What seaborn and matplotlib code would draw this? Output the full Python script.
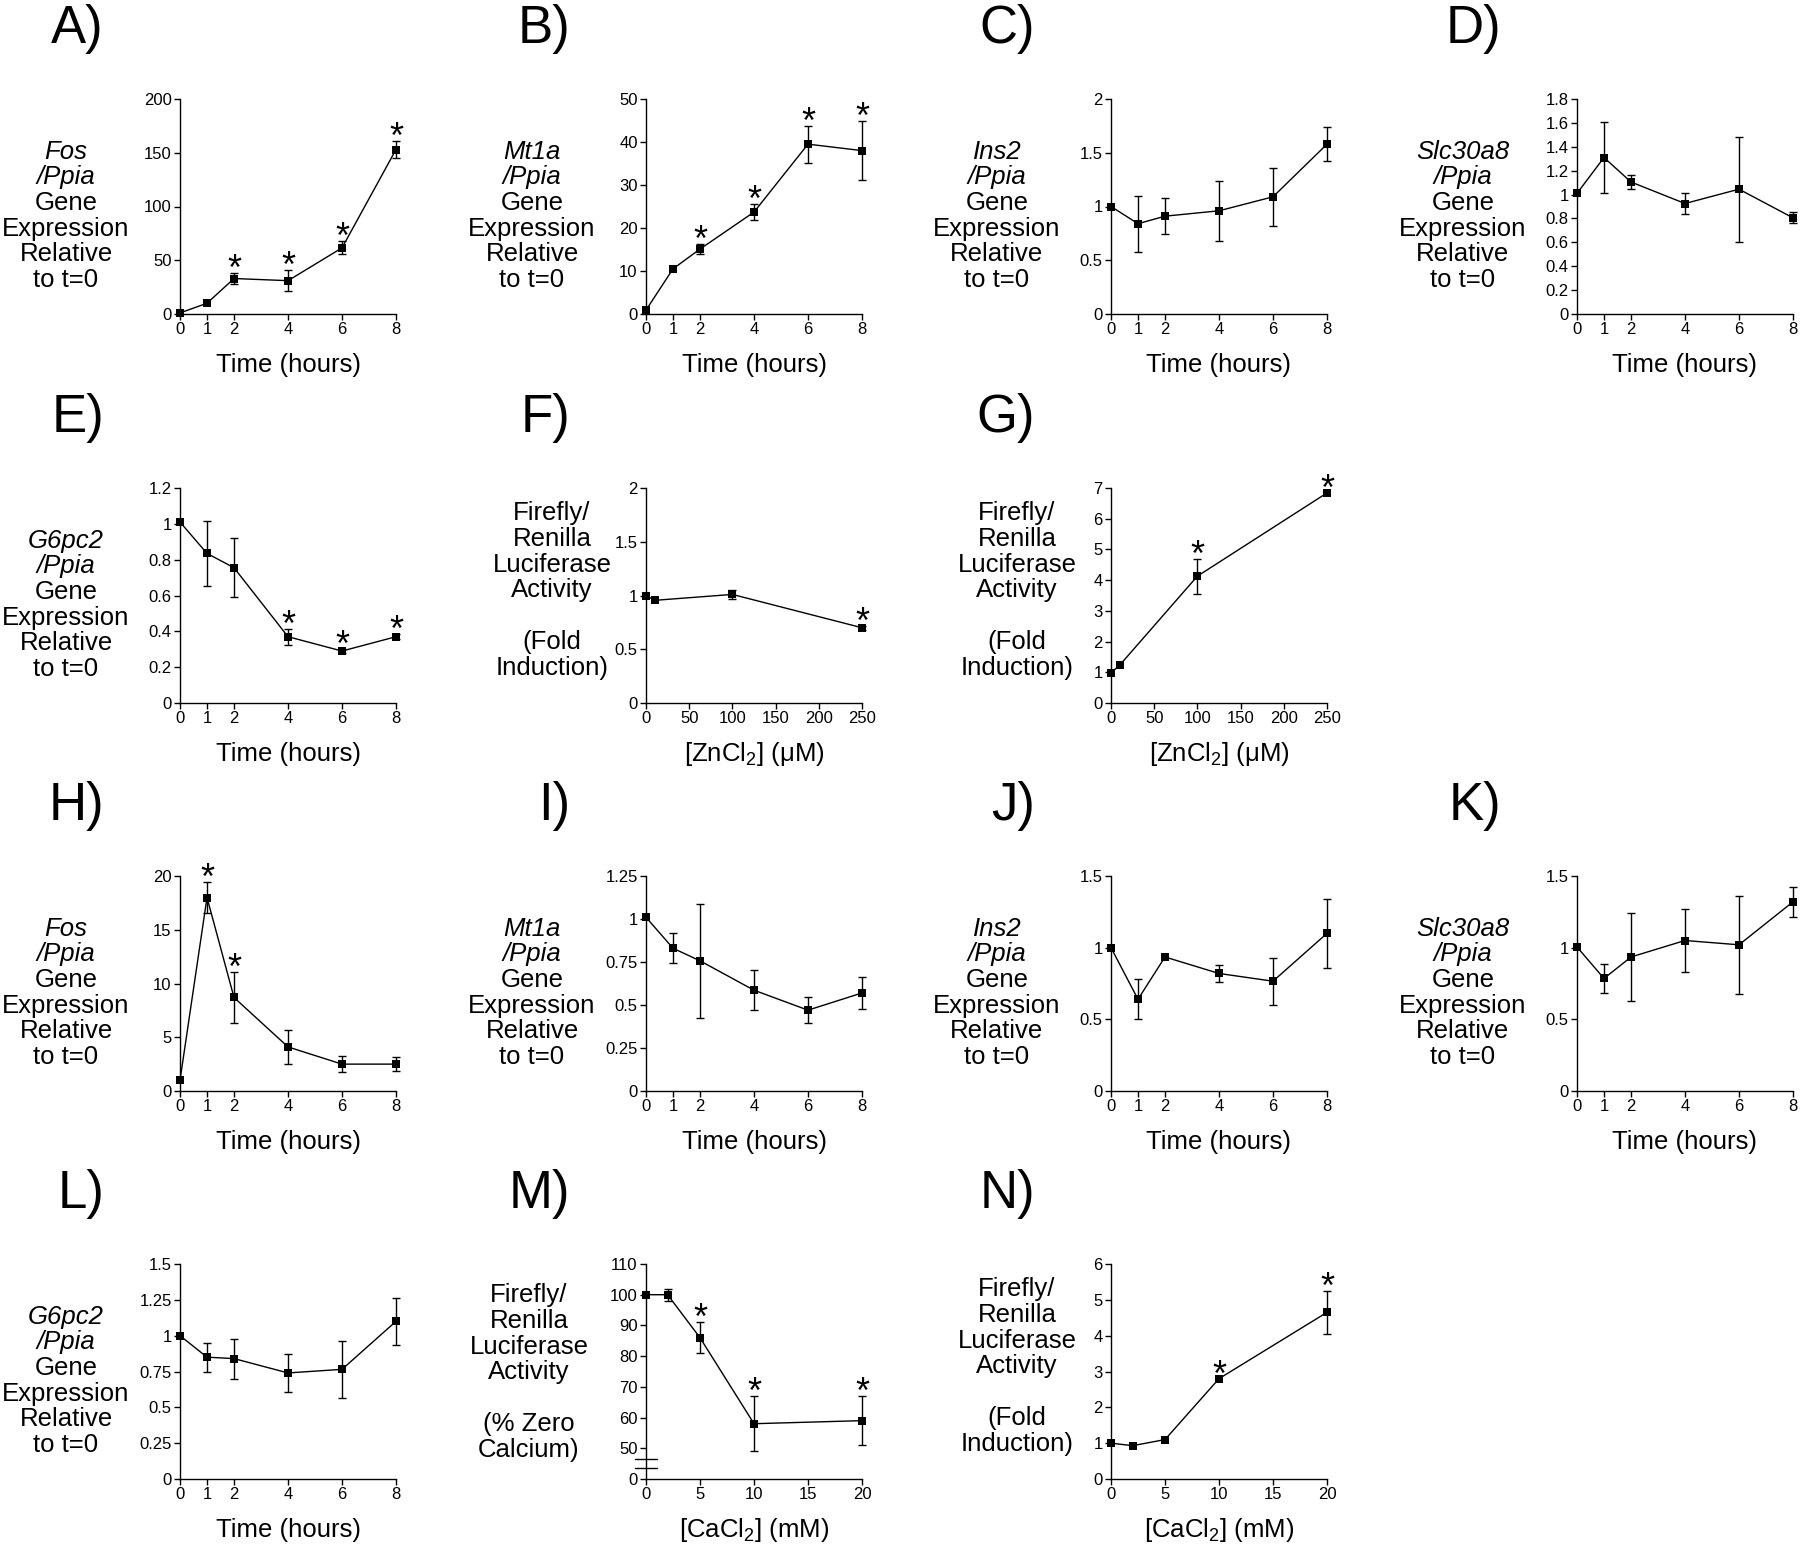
import numpy as np
import matplotlib
matplotlib.use("Agg")
import matplotlib.pyplot as plt
import seaborn as sns
from matplotlib.ticker import FuncFormatter
from matplotlib.transforms import blended_transform_factory

nan = np.nan

# x values
hours = [0, 1, 2, 4, 6, 8]
zinc_um = [0, 10, 100, 250]
calcium_mm = [0, 2, 5, 10, 20]

# zinc time course (A-E)
fos_zn = [1, 10, 33, 31, 61.5, 153]
fos_zn_err = [nan, nan, 5.5, 10, 6, 8]
fos_zn_sig = [2, 4, 6, 8]
mt1a_zn = [0.9, 10.5, 15.1, 23.7, 39.5, 38.0]
mt1a_zn_err = [nan, nan, 1.2, 1.8, 4.3, 6.8]
mt1a_zn_sig = [2, 4, 6, 8]
ins2_zn = [1.0, 0.84, 0.91, 0.96, 1.09, 1.58]
ins2_zn_err = [nan, 0.26, 0.17, 0.28, 0.27, 0.16]
slc_zn = [1.01, 1.31, 1.105, 0.925, 1.045, 0.805]
slc_zn_err = [nan, 0.30, 0.06, 0.09, 0.44, 0.045]
g6pc2_zn = [1.01, 0.835, 0.755, 0.37, 0.29, 0.37]
g6pc2_zn_err = [nan, 0.18, 0.165, 0.045, 0.012, 0.015]
g6pc2_zn_sig = [4, 6, 8]

# luciferase, zinc (F, G)
luc_f = [1.0, 0.955, 1.01, 0.70]
luc_f_err = [nan, nan, 0.04, 0.02]
luc_f_sig = [250]
luc_g = [0.98, 1.23, 4.13, 6.84]
luc_g_err = [nan, nan, 0.57, nan]
luc_g_sig = [100, 250]

# calcium time course (H-L)
fos_ca = [1.0, 18.0, 8.7, 4.1, 2.5, 2.5]
fos_ca_err = [nan, 1.4, 2.4, 1.6, 0.75, 0.65]
fos_ca_sig = [1, 2]
mt1a_ca = [1.01, 0.83, 0.757, 0.586, 0.47, 0.57]
mt1a_ca_err = [nan, 0.087, 0.33, 0.116, 0.075, 0.095]
ins2_ca = [1.0, 0.64, 0.935, 0.82, 0.766, 1.10]
ins2_ca_err = [nan, 0.14, nan, 0.058, 0.165, 0.24]
slc_ca = [1.005, 0.785, 0.935, 1.05, 1.02, 1.32]
slc_ca_err = [nan, 0.10, 0.31, 0.22, 0.34, 0.105]
g6pc2_ca = [1.0, 0.85, 0.84, 0.74, 0.765, 1.10]
g6pc2_ca_err = [nan, 0.10, 0.14, 0.135, 0.20, 0.165]

# luciferase, calcium (M, N)
luc_m = [100, 100, 86, 58, 59]
luc_m_err = [nan, 2, 5, 9, 8]
luc_m_sig = [5, 10, 20]
luc_n = [1.0, 0.93, 1.1, 2.8, 4.65]
luc_n_err = [nan, nan, nan, nan, 0.6]
luc_n_sig = [10, 20]

# M axis: broken between 0 and 50, "0" drawn at 40
m_ticks = [40, 50, 60, 70, 80, 90, 100, 110]
m_ticklabels = ["0", "50", "60", "70", "80", "90", "100", "110"]

time_label = "Time (hours)"
zn_label = "[ZnCl$_2$] (μM)"
ca_label = "[CaCl$_2$] (mM)"


def gene_lines(g):
    return [(g, True), ("/Ppia", True), ("Gene", False), ("Expression", False),
            ("Relative", False), ("to t=0", False)]


fold_lines = [("Firefly/", False), ("Renilla", False), ("Luciferase", False),
              ("Activity", False), ("", False), ("(Fold", False), ("Induction)", False)]
pct_lines = [("Firefly/", False), ("Renilla", False), ("Luciferase", False),
             ("Activity", False), ("", False), ("(% Zero", False), ("Calcium)", False)]

sns.set_style("ticks", {"axes.edgecolor": "black", "xtick.color": "black",
                        "ytick.color": "black", "text.color": "black"})
plt.rcParams["font.family"] = ["Liberation Sans", "DejaVu Sans"]
plt.rcParams["mathtext.fontset"] = "custom"
plt.rcParams["mathtext.rm"] = "Liberation Sans"
plt.rcParams["mathtext.it"] = "Liberation Sans:italic"

W, H = 1800, 1547
fig = plt.figure(figsize=(W / 100, H / 100), dpi=100)

col_left = [180, 646, 1111, 1577]
row_top = [99, 488, 876, 1264]
ax_w, ax_h = 216, 215

panels = [
    ("A", 0, 0, hours, fos_zn, fos_zn_err, fos_zn_sig, np.arange(0, 201, 50), hours, gene_lines("Fos"), time_label),
    ("B", 0, 1, hours, mt1a_zn, mt1a_zn_err, mt1a_zn_sig, np.arange(0, 51, 10), hours, gene_lines("Mt1a"), time_label),
    ("C", 0, 2, hours, ins2_zn, ins2_zn_err, [], np.arange(0, 2.01, 0.5), hours, gene_lines("Ins2"), time_label),
    ("D", 0, 3, hours, slc_zn, slc_zn_err, [], np.arange(0, 1.81, 0.2), hours, gene_lines("Slc30a8"), time_label),
    ("E", 1, 0, hours, g6pc2_zn, g6pc2_zn_err, g6pc2_zn_sig, np.arange(0, 1.21, 0.2), hours, gene_lines("G6pc2"), time_label),
    ("F", 1, 1, zinc_um, luc_f, luc_f_err, luc_f_sig, np.arange(0, 2.01, 0.5), np.arange(0, 251, 50), fold_lines, zn_label),
    ("G", 1, 2, zinc_um, luc_g, luc_g_err, luc_g_sig, np.arange(0, 7.1, 1), np.arange(0, 251, 50), fold_lines, zn_label),
    ("H", 2, 0, hours, fos_ca, fos_ca_err, fos_ca_sig, np.arange(0, 21, 5), hours, gene_lines("Fos"), time_label),
    ("I", 2, 1, hours, mt1a_ca, mt1a_ca_err, [], np.arange(0, 1.26, 0.25), hours, gene_lines("Mt1a"), time_label),
    ("J", 2, 2, hours, ins2_ca, ins2_ca_err, [], np.arange(0, 1.51, 0.5), hours, gene_lines("Ins2"), time_label),
    ("K", 2, 3, hours, slc_ca, slc_ca_err, [], np.arange(0, 1.51, 0.5), hours, gene_lines("Slc30a8"), time_label),
    ("L", 3, 0, hours, g6pc2_ca, g6pc2_ca_err, [], np.arange(0, 1.51, 0.25), hours, gene_lines("G6pc2"), time_label),
    ("M", 3, 1, calcium_mm, luc_m, luc_m_err, luc_m_sig, m_ticks, np.arange(0, 21, 5), pct_lines, ca_label),
    ("N", 3, 2, calcium_mm, luc_n, luc_n_err, luc_n_sig, np.arange(0, 6.1, 1), np.arange(0, 21, 5), fold_lines, ca_label),
]

fmt = FuncFormatter(lambda v, p: "%g" % round(v, 4))
line_gap = 25.7
txt_size = 18.5

for letter, r, c, x, y, err, sig, yt, xt, ylines, xlabel in panels:
    left = col_left[c] / W
    bottom = 1 - (row_top[r] + ax_h) / H
    ax = fig.add_axes([left, bottom, ax_w / W, ax_h / H])

    sns.lineplot(x=x, y=y, ax=ax, color="black", marker="s", markersize=6,
                 markeredgewidth=0, linewidth=1, clip_on=False, zorder=3)
    ax.errorbar(x, y, yerr=err, fmt="none", ecolor="black", elinewidth=1,
                capsize=3, capthick=1, clip_on=False, zorder=2)
    for xv, yv, ev in zip(x, y, err):
        if xv in sig:
            top = yv + (0 if np.isnan(ev) else ev)
            ax.annotate("*", (xv, top), xytext=(0, -5), textcoords="offset points",
                        ha="center", va="baseline", fontsize=26, annotation_clip=False)

    ax.set_xlim(xt[0], xt[-1])
    ax.set_ylim(yt[0], yt[-1])
    ax.set_xticks(xt)
    ax.set_yticks(yt)
    if letter == "M":
        ax.set_yticklabels(m_ticklabels)
        tr = blended_transform_factory(ax.transAxes, ax.transData)
        for yb in (46.5, 43.5):
            ax.plot([-0.05, 0.05], [yb, yb], transform=tr, color="black", lw=1, clip_on=False)
    else:
        ax.yaxis.set_major_formatter(fmt)
    ax.xaxis.set_major_formatter(fmt)
    sns.despine(ax=ax)
    for s in ("left", "bottom"):
        ax.spines[s].set_linewidth(1)
    ax.tick_params(direction="out", length=4, width=1, labelsize=12, pad=2)

    # panel letter
    ax.annotate(letter + ")", xy=(0, 1), xycoords="axes fraction", xytext=(-76, 56),
                textcoords="offset pixels", ha="right", va="baseline", fontsize=38)
    # x label
    ax.annotate(xlabel, xy=(0.5, 0), xycoords="axes fraction", xytext=(0, -58),
                textcoords="offset pixels", ha="center", va="baseline", fontsize=txt_size)
    # y label, line by line
    n = len(ylines)
    if ylines is fold_lines:
        cx, cy = -94, 5
    elif ylines is pct_lines:
        cx, cy = -117, -1
    else:
        cx, cy = -114, -9.3
    for k, (txt, it) in enumerate(ylines):
        if not txt:
            continue
        ax.annotate(txt, xy=(0, 0.5), xycoords="axes fraction",
                    xytext=(cx, cy - (k - (n - 1) / 2) * line_gap),
                    textcoords="offset pixels", ha="center", va="center",
                    fontsize=txt_size, style="italic" if it else "normal")

fig.savefig("out.png", dpi=100)
